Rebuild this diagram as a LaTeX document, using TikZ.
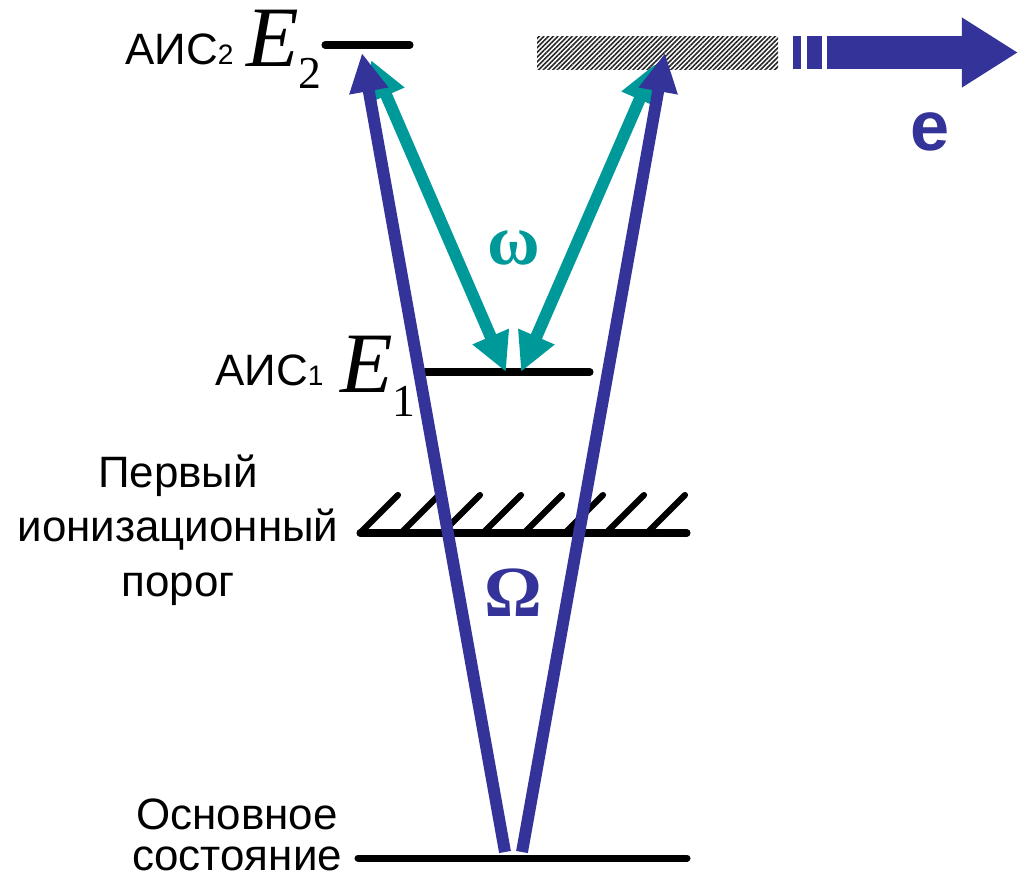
\documentclass[tikz,border=0pt]{standalone}
\usepackage{fontspec}
\setsansfont{Liberation Sans}
\newfontfamily\tmsfont{Liberation Serif}
\usetikzlibrary{arrows.meta,patterns.meta}

\definecolor{omblue}{RGB}{51,51,153}
\definecolor{omteal}{RGB}{0,153,153}

\tikzset{
  lvl/.style={black, line width=4pt, line cap=round},
  pump/.style={omblue, line width=6.8pt, -{Triangle[width=21pt,length=22pt]}},
  probe/.style={omteal, line width=6.8pt, {Triangle[width=21pt,length=22pt]}-{Triangle[width=21pt,length=22pt]}},
  lab/.style={font=\sffamily\fontsize{25}{31}\selectfont, inner sep=0pt},
}

\begin{document}
\begin{tikzpicture}[x=0.02cm, y=-0.02cm]
\useasboundingbox (0,0) rectangle (1018,887);

% уровни
\coordinate (l2a) at (325,45);  \coordinate (l2b) at (410,45);
\coordinate (l1a) at (425,372); \coordinate (l1b) at (590,372);
\coordinate (ipa) at (360,533); \coordinate (ipb) at (687,533);
\coordinate (gsa) at (358,858); \coordinate (gsb) at (687,858);
\draw[lvl] (l2a) -- (l2b);
\draw[lvl] (l1a) -- (l1b);
\draw[lvl] (ipa) -- (ipb);
\draw[lvl] (gsa) -- (gsb);
\foreach \k in {0,...,7}
  \draw[black, line width=3.5pt, line cap=round] (360+41*\k,533) -- ++(38,-38);

% континуум и электрон
\fill[pattern={Lines[angle=45,distance=1.9pt,line width=0.9pt]}, pattern color=black!85]
  (537,36) rectangle (778,69);
\fill[omblue] (793,36) rectangle (801,69);
\fill[omblue] (807,36) rectangle (822,69);
\coordinate (es) at (827,52.5);
\coordinate (et) at (1018,52.5);
\draw[omblue, line width=18.8pt, -{Triangle[width=37.6pt,length=32pt]}] (es) -- (et);
\node[font=\sffamily\bfseries\fontsize{40}{40}\selectfont, text=omblue, inner sep=0pt] (elec) at (930,132) {e};

% подписи
\node[lab, anchor=base west] (ais2) at (125,64) {АИС{\fontsize{16}{16}\selectfont 2}};
\node[inner sep=0pt, anchor=base west] (en2) at (246,66)
  {{\tmsfont\itshape\fontsize{49}{49}\selectfont E}\raisebox{-13pt}{\tmsfont\fontsize{26}{26}\selectfont 2}};
\node[lab, anchor=base west] (ais1) at (215,385) {АИС{\fontsize{16}{16}\selectfont 1}};
\node[inner sep=0pt, anchor=base west] (en1) at (340,392)
  {{\tmsfont\itshape\fontsize{49}{49}\selectfont E}\raisebox{-14pt}{\tmsfont\fontsize{26}{26}\selectfont 1}};
\node[lab, align=center] (porog) at (178,530) {Первый\\ионизационный\\порог};
\node[lab, align=center, font=\sffamily\fontsize{25}{23.5}\selectfont] (osn) at (237,835) {Основное\\состояние};

% переходы
\coordinate (p1s) at (505,852); \coordinate (p1t) at (362,53);
\coordinate (p2s) at (522,852); \coordinate (p2t) at (665,53);
\coordinate (w1a) at (371,60);  \coordinate (w1b) at (506,372);
\coordinate (w2a) at (655,64);  \coordinate (w2b) at (521,372);
\draw[probe] (w1a) -- (w1b);
\draw[probe] (w2a) -- (w2b);
\draw[pump] (p1s) -- (p1t);
\draw[pump] (p2s) -- (p2t);
\node[text=omteal, inner sep=0pt, font=\tmsfont\bfseries\fontsize{41}{41}\selectfont] (omega) at (514,248) {ω};
\node[text=omblue, inner sep=0pt, font=\tmsfont\bfseries\fontsize{41}{41}\selectfont] (Omega) at (513,593) {Ω};

\end{tikzpicture}
\end{document}
